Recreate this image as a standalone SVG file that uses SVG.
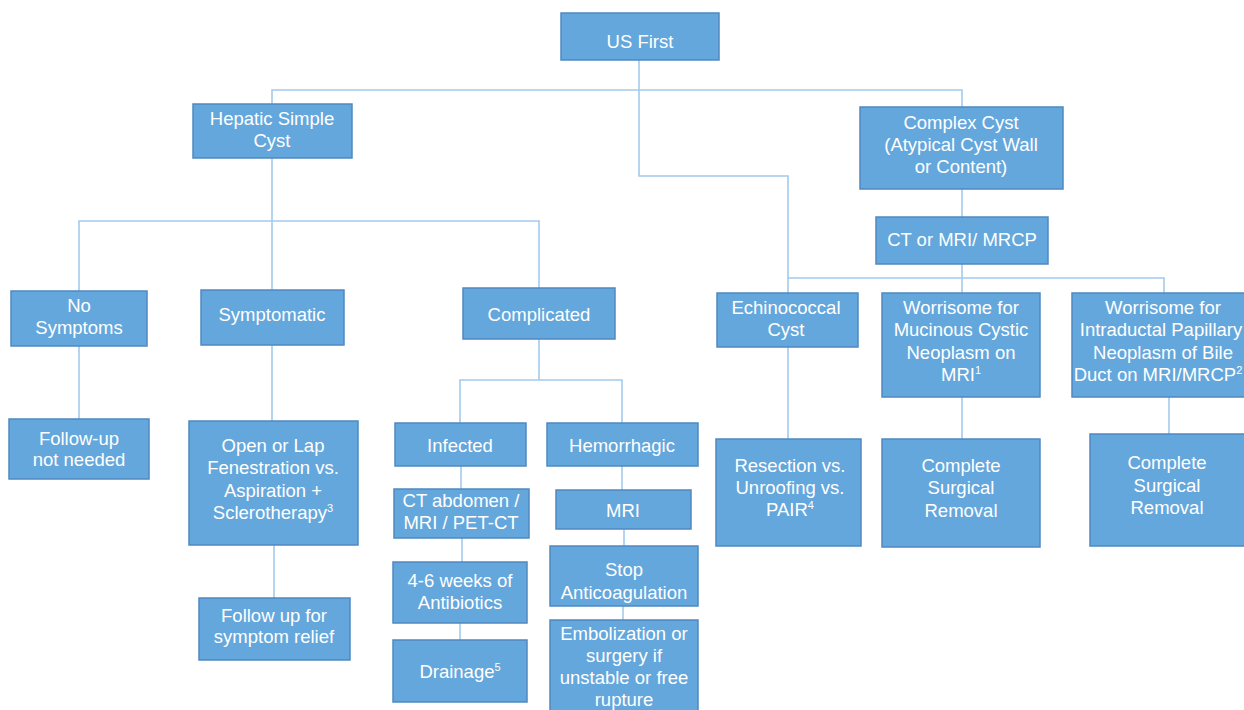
<svg xmlns="http://www.w3.org/2000/svg" width="1244" height="710" viewBox="0 0 1244 710">
<style>
.box{fill:#64A7DC;stroke:#4F89C0;stroke-width:1.5}
.t{font-family:"Liberation Sans",Arial,sans-serif;font-size:18.5px;fill:#FFFFFF;text-anchor:middle}
.sup{font-size:11px}
.c{fill:none;stroke:#A3CAEC;stroke-width:1.6}
</style>
<rect width="1244" height="710" fill="#FFFFFF"/>
<g id="connectors">
<path class="c" d="M639,60 V176 H788 V293"/>
<path class="c" d="M272,104 V90 H962 V107"/>
<path class="c" d="M272,158 V221 M79,291 V221 H539 V288 M272,221 V290"/>
<path class="c" d="M79,346 V419 M272,345 V421 M274,545 V598"/>
<path class="c" d="M539,339 V380 M460,423 V380 H622 V423"/>
<path class="c" d="M461,466 V489 M462,538 V562 M460,623 V640"/>
<path class="c" d="M622,466 V490 M624,529 V546 M623,606 V620"/>
<path class="c" d="M962,189 V217 M962,264 V293 M788,278 H1164 V293"/>
<path class="c" d="M788,347 V439 M962,397 V439 M1169,397 V434"/>
</g>
<g id="us-first"><rect class="box" x="561" y="13" width="158" height="47"/><text class="t" x="640" y="48">US First</text></g>
<g id="hepatic-simple-cyst"><rect class="box" x="193" y="104" width="159" height="54"/><text class="t" x="272" y="125">Hepatic Simple</text><text class="t" x="272" y="147">Cyst</text></g>
<g id="complex-cyst"><rect class="box" x="860" y="107" width="203" height="82"/><text class="t" x="961" y="129">Complex Cyst</text><text class="t" x="961" y="151">(Atypical Cyst Wall</text><text class="t" x="961" y="173">or Content)</text></g>
<g id="ct-mri-mrcp"><rect class="box" x="876" y="217" width="172" height="47"/><text class="t" x="962" y="246">CT or MRI/ MRCP</text></g>
<g id="no-symptoms"><rect class="box" x="11" y="291" width="136" height="55"/><text class="t" x="79" y="312">No</text><text class="t" x="79" y="334">Symptoms</text></g>
<g id="symptomatic"><rect class="box" x="201" y="290" width="143" height="55"/><text class="t" x="272" y="321">Symptomatic</text></g>
<g id="complicated"><rect class="box" x="463" y="288" width="152" height="51"/><text class="t" x="539" y="321">Complicated</text></g>
<g id="follow-up-not-needed"><rect class="box" x="9" y="419" width="140" height="60"/><text class="t" x="79" y="445">Follow-up</text><text class="t" x="79" y="466">not needed</text></g>
<g id="open-or-lap"><rect class="box" x="189" y="421" width="169" height="124"/><text class="t" x="273" y="452">Open or Lap</text><text class="t" x="273" y="474">Fenestration vs.</text><text class="t" x="273" y="497">Aspiration +</text><text class="t" x="273" y="519">Sclerotherapy<tspan class="sup" dy="-7">3</tspan></text></g>
<g id="follow-up-symptom-relief"><rect class="box" x="199" y="598" width="151" height="62"/><text class="t" x="274" y="622">Follow up for</text><text class="t" x="274" y="643">symptom relief</text></g>
<g id="infected"><rect class="box" x="395" y="423" width="131" height="43"/><text class="t" x="460" y="452">Infected</text></g>
<g id="hemorrhagic"><rect class="box" x="547" y="423" width="151" height="43"/><text class="t" x="622" y="452">Hemorrhagic</text></g>
<g id="ct-abdomen"><rect class="box" x="394" y="489" width="135" height="49"/><text class="t" x="461" y="507">CT abdomen /</text><text class="t" x="461" y="529">MRI / PET-CT</text></g>
<g id="mri"><rect class="box" x="556" y="490" width="135" height="39"/><text class="t" x="623" y="517">MRI</text></g>
<g id="antibiotics"><rect class="box" x="393" y="562" width="134" height="61"/><text class="t" x="460" y="587">4-6 weeks of</text><text class="t" x="460" y="609">Antibiotics</text></g>
<g id="stop-anticoagulation"><rect class="box" x="550" y="546" width="148" height="60"/><text class="t" x="624" y="576">Stop</text><text class="t" x="624" y="599">Anticoagulation</text></g>
<g id="drainage"><rect class="box" x="393" y="640" width="134" height="62"/><text class="t" x="460" y="678">Drainage<tspan class="sup" dy="-7">5</tspan></text></g>
<g id="embolization"><rect class="box" x="550" y="620" width="148" height="100"/><text class="t" x="624" y="640">Embolization or</text><text class="t" x="624" y="662">surgery if</text><text class="t" x="624" y="684">unstable or free</text><text class="t" x="624" y="706">rupture</text></g>
<g id="echinococcal-cyst"><rect class="box" x="717" y="293" width="141" height="54"/><text class="t" x="786" y="314">Echinococcal</text><text class="t" x="786" y="336">Cyst</text></g>
<g id="resection"><rect class="box" x="716" y="439" width="145" height="107"/><text class="t" x="790" y="472">Resection vs.</text><text class="t" x="790" y="494">Unroofing vs.</text><text class="t" x="790" y="516">PAIR<tspan class="sup" dy="-7">4</tspan></text></g>
<g id="mucinous"><rect class="box" x="882" y="293" width="158" height="104"/><text class="t" x="961" y="314">Worrisome for</text><text class="t" x="961" y="336">Mucinous Cystic</text><text class="t" x="961" y="359">Neoplasm on</text><text class="t" x="961" y="381">MRI<tspan class="sup" dy="-7">1</tspan></text></g>
<g id="complete-removal-1"><rect class="box" x="882" y="439" width="158" height="108"/><text class="t" x="961" y="472">Complete</text><text class="t" x="961" y="494">Surgical</text><text class="t" x="961" y="517">Removal</text></g>
<g id="intraductal"><rect class="box" x="1072" y="293" width="185" height="104"/><text class="t" x="1163" y="314">Worrisome for</text><text class="t" x="1161" y="336">Intraductal Papillary</text><text class="t" x="1163" y="359">Neoplasm of Bile</text><text class="t" x="1158" y="381">Duct on MRI/MRCP<tspan class="sup" dy="-7">2</tspan></text></g>
<g id="complete-removal-2"><rect class="box" x="1090" y="434" width="160" height="112"/><text class="t" x="1167" y="469">Complete</text><text class="t" x="1167" y="492">Surgical</text><text class="t" x="1167" y="514">Removal</text></g>
</svg>
